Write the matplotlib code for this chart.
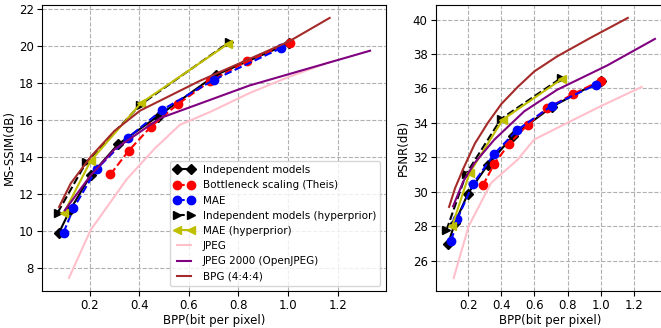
import matplotlib
matplotlib.use('Agg')
import matplotlib.pyplot as plt

# MS-SSIM panel (bpp, dB)
ind_bpp = [0.077, 0.121, 0.204, 0.314, 0.474, 0.71, 1.003]
ind_msssim = [9.92, 11.13, 13.0, 14.67, 16.18, 18.43, 20.12]
theis_bpp = [0.284, 0.358, 0.448, 0.557, 0.684, 0.833, 1.007]
theis_msssim = [13.06, 14.34, 15.64, 16.86, 18.07, 19.15, 20.15]
mae_bpp = [0.095, 0.135, 0.228, 0.355, 0.493, 0.701, 0.973]
mae_msssim = [9.92, 11.23, 13.34, 15.04, 16.54, 18.16, 19.88]
indh_bpp = [0.071, 0.186, 0.404, 0.764]
indh_msssim = [10.99, 13.70, 16.81, 20.2]
maeh_bpp = [0.097, 0.204, 0.407, 0.757]
maeh_msssim = [10.99, 13.78, 16.9, 20.09]
jpeg_bpp = [0.117, 0.204, 0.35, 0.464, 0.564, 0.69, 0.844, 1.0, 1.164]
jpeg_msssim = [7.47, 10.05, 12.8, 14.47, 15.73, 16.45, 17.44, 18.3, 19.1]
j2k_bpp = [0.1, 0.204, 0.3, 0.484, 0.844, 1.204, 1.331]
j2k_msssim = [11.12, 13.0, 14.4, 16.09, 17.85, 19.24, 19.73]
bpg_bpp = [0.077, 0.124, 0.204, 0.3, 0.404, 0.644, 1.004, 1.168]
bpg_msssim = [11.3, 12.57, 14.0, 15.4, 16.5, 18.1, 20.23, 21.5]

# PSNR panel (bpp, dB)
ind_bpp2 = [0.078, 0.12, 0.198, 0.318, 0.472, 0.704, 1.002]
ind_psnr = [26.98, 28.2, 29.89, 31.57, 33.26, 34.93, 36.46]
theis_bpp2 = [0.288, 0.358, 0.448, 0.558, 0.678, 0.834, 1.002]
theis_psnr = [30.37, 31.63, 32.8, 33.88, 34.85, 35.68, 36.46]
mae_bpp2 = [0.098, 0.134, 0.228, 0.358, 0.494, 0.704, 0.972]
mae_psnr = [27.16, 28.42, 30.45, 32.21, 33.57, 35.0, 36.22]
indh_bpp2 = [0.068, 0.188, 0.398, 0.762]
indh_psnr = [27.76, 31.05, 34.23, 36.61]
maeh_bpp2 = [0.102, 0.208, 0.408, 0.768]
maeh_psnr = [27.99, 31.09, 34.19, 36.57]
jpeg_bpp2 = [0.112, 0.202, 0.338, 0.498, 0.598, 0.798, 0.998, 1.248]
jpeg_psnr = [24.99, 27.99, 30.51, 31.86, 33.03, 34.0, 34.96, 36.09]
j2k_bpp2 = [0.108, 0.17, 0.238, 0.358, 0.538, 0.738, 1.038, 1.328]
j2k_psnr = [29.15, 30.6, 31.67, 33.03, 34.67, 35.93, 37.33, 38.88]
bpg_bpp2 = [0.084, 0.12, 0.168, 0.24, 0.318, 0.4, 0.5, 0.6, 0.738, 0.938, 1.164]
bpg_psnr = [29.12, 30.2, 31.3, 32.8, 34.0, 35.1, 36.1, 37.0, 37.87, 38.94, 40.1]


def draw(ax, d):
    ax.plot(d[0][0], d[0][1], 'k-D', ms=5.5, label='Independent models')
    ax.plot(d[1][0], d[1][1], 'r--o', ms=6, label='Bottleneck scaling (Theis)')
    ax.plot(d[2][0], d[2][1], 'b--o', ms=6, label='MAE')
    ax.plot(d[3][0], d[3][1], 'k-->', ms=6, label='Independent models (hyperprior)')
    ax.plot(d[4][0], d[4][1], 'y-<', ms=6, label='MAE (hyperprior)')
    ax.plot(d[5][0], d[5][1], color='pink', label='JPEG')
    ax.plot(d[6][0], d[6][1], color='purple', label='JPEG 2000 (OpenJPEG)')
    ax.plot(d[7][0], d[7][1], color='brown', label='BPG (4:4:4)')
    ax.grid(True, linestyle='--', color='#b0b0b0')
    ax.set_xlabel('BPP(bit per pixel)', labelpad=1)
    ax.set_xticks([0.2, 0.4, 0.6, 0.8, 1.0, 1.2])
    ax.tick_params(pad=2.5)


plt.rcParams['font.size'] = 8.5
fig = plt.figure(figsize=(6.61, 3.28), dpi=100)
ax1 = fig.add_axes([0.0635, 0.113, 0.520, 0.872])
ax2 = fig.add_axes([0.6596, 0.113, 0.347, 0.872])

draw(ax1, [(ind_bpp, ind_msssim), (theis_bpp, theis_msssim), (mae_bpp, mae_msssim),
           (indh_bpp, indh_msssim), (maeh_bpp, maeh_msssim), (jpeg_bpp, jpeg_msssim),
           (j2k_bpp, j2k_msssim), (bpg_bpp, bpg_msssim)])
ax1.set_ylabel('MS-SSIM(dB)', labelpad=2)
ax1.legend(loc='lower right', numpoints=2, fontsize=7.5)

draw(ax2, [(ind_bpp2, ind_psnr), (theis_bpp2, theis_psnr), (mae_bpp2, mae_psnr),
           (indh_bpp2, indh_psnr), (maeh_bpp2, maeh_psnr), (jpeg_bpp2, jpeg_psnr),
           (j2k_bpp2, j2k_psnr), (bpg_bpp2, bpg_psnr)])
ax2.set_ylabel('PSNR(dB)', labelpad=2)

fig.savefig('out.png', dpi=100)
